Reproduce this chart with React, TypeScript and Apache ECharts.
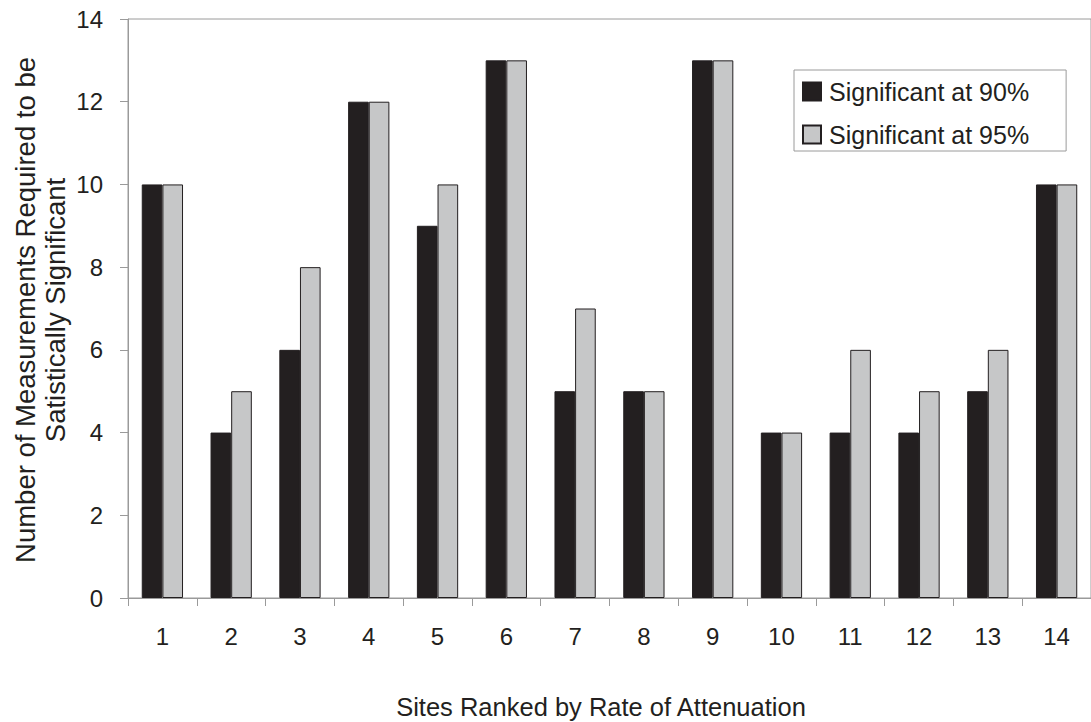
import React, { useEffect, useRef } from "react";
import * as echarts from "echarts";

const sites = ["1", "2", "3", "4", "5", "6", "7", "8", "9", "10", "11", "12", "13", "14"];
const sig90 = [10, 4, 6, 12, 9, 13, 5, 5, 13, 4, 4, 4, 5, 10];
const sig95 = [10, 5, 8, 12, 10, 13, 7, 5, 13, 4, 6, 5, 6, 10];
const seriesNames = ["Significant at 90%", "Significant at 95%"];
const xTitle = "Sites Ranked by Rate of Attenuation";
const yTitle = "Number of Measurements Required to be\nSatistically Significant";

const FONT = "'Liberation Sans', Arial, Helvetica, sans-serif";
const INK = "#231f20";

export default function App() {
  const ref = useRef<HTMLDivElement>(null);
  useEffect(() => {
    if (!ref.current) return;
    const chart = echarts.init(ref.current, undefined, { renderer: "svg" });
    chart.setOption({
      animation: false,
      backgroundColor: "#ffffff",
      textStyle: { fontFamily: FONT, color: INK },
      grid: {
        left: 128,
        right: -3,
        top: 19,
        bottom: 124,
        show: true,
        borderColor: "#9a9a9a",
        borderWidth: 1,
      },
      legend: {
        orient: "vertical",
        left: 794,
        top: 70,
        backgroundColor: "#ffffff",
        borderColor: "#9a9a9a",
        borderWidth: 1,
        padding: [9, 37, 4, 8],
        itemGap: 18,
        itemWidth: 18,
        itemHeight: 18,
        icon: "rect",
        textStyle: { fontSize: 25, fontFamily: FONT, color: INK, lineHeight: 23, padding: [0, 0, 0, 3] },
        data: seriesNames,
      },
      xAxis: {
        type: "category",
        data: sites,
        axisLine: { lineStyle: { color: "#9a9a9a", width: 1 } },
        axisTick: { show: true, length: 8, lineStyle: { color: "#9a9a9a" } },
        axisLabel: { fontSize: 24, color: INK, margin: 26, fontFamily: FONT },
        splitLine: { show: false },
      },
      yAxis: {
        type: "value",
        min: 0,
        max: 14,
        interval: 2,
        axisLine: { show: true, lineStyle: { color: "#9a9a9a", width: 1 } },
        axisTick: { show: true, length: 8, lineStyle: { color: "#9a9a9a" } },
        axisLabel: { fontSize: 24, color: INK, margin: 25, fontFamily: FONT },
        splitLine: { show: false },
      },
      graphic: [
        {
          type: "text",
          x: 601,
          y: 707,
          style: {
            text: xTitle,
            fontSize: 25.5,
            fontFamily: FONT,
            fill: INK,
            textAlign: "center",
            textVerticalAlign: "middle",
          },
        },
        {
          type: "text",
          x: 40,
          y: 310,
          rotation: Math.PI / 2,
          style: {
            text: yTitle,
            fontSize: 27.5,
            lineHeight: 30,
            fontFamily: FONT,
            fill: INK,
            textAlign: "center",
            textVerticalAlign: "middle",
          },
        },
      ],
      series: [
        {
          name: seriesNames[0],
          type: "bar",
          data: sig90,
          barGap: "0%",
          barCategoryGap: "40%",
          itemStyle: { color: INK, borderColor: INK, borderWidth: 1 },
        },
        {
          name: seriesNames[1],
          type: "bar",
          data: sig95,
          barGap: "0%",
          barCategoryGap: "40%",
          itemStyle: { color: "#c6c7c8", borderColor: INK, borderWidth: 1 },
        },
      ],
    });
    return () => chart.dispose();
  }, []);
  return (
    <div
      ref={ref}
      style={{ position: "fixed", left: 0, top: 0, width: 1091, height: 722, background: "#fff" }}
    />
  );
}
